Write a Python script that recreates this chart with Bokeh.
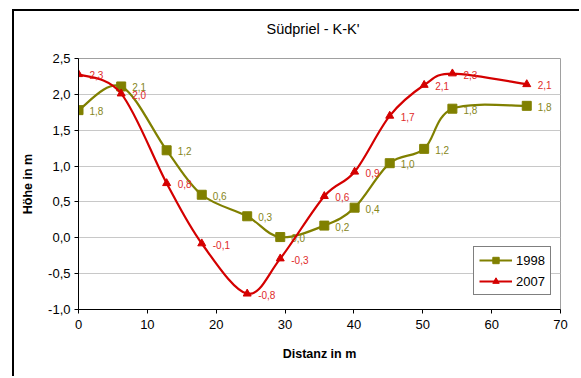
from bokeh.plotting import figure
from bokeh.models import (Range1d, FixedTicker, CustomJSTickFormatter, ColumnDataSource,
                          Legend, LegendItem, Title)
from bokeh.embed import file_html
from bokeh.resources import INLINE

# ---- data ----
distanz = [0, 6.2, 12.8, 17.9, 24.5, 29.3, 35.7, 40.1, 45.2, 50.2, 54.3, 65.1]
hoehe_1998 = [1.78, 2.11, 1.22, 0.60, 0.30, 0.01, 0.17, 0.42, 1.04, 1.24, 1.80, 1.84]
hoehe_2007 = [2.28, 2.01, 0.76, -0.08, -0.78, -0.29, 0.58, 0.92, 1.70, 2.13, 2.29, 2.14]
y_ticks = [-1.0, -0.5, 0.0, 0.5, 1.0, 1.5, 2.0, 2.5]
x_ticks = [0, 10, 20, 30, 40, 50, 60, 70]
series_names = ["1998", "2007"]

OLIVE = "#808000"
RED = "#d40000"
RED_LBL = "#e02a2a"
FONT = "Liberation Sans"

p = figure(width=567, height=367, output_backend="svg", toolbar_location=None,
           x_range=Range1d(0, 70), y_range=Range1d(-1.0, 2.5),
           min_border_left=64, min_border_right=21, min_border_top=47, min_border_bottom=69,
           title="Südpriel - K-K'")
p.styles = {"margin-left": "12px", "margin-top": "9px",
            "border-left": "2px solid black", "border-top": "2px solid black"}
p.title.align = "left"
p.title.offset = 188
p.title.text_font = FONT
p.title.text_font_size = "14.5px"
p.title.text_font_style = "normal"
p.title.text_color = "black"
p.title.standoff = 0

spacer = Title(text=" ", text_font_size="12px", standoff=6)
p.add_layout(spacer, "above")

p.background_fill_color = "white"
p.border_fill_color = "white"
p.outline_line_color = "#a0a0a0"
p.outline_line_width = 1

p.xgrid.grid_line_color = None
p.ygrid.grid_line_color = "#c8c8c8"
p.ygrid.grid_line_width = 1

p.xaxis.ticker = FixedTicker(ticks=x_ticks)
p.yaxis.ticker = FixedTicker(ticks=y_ticks)
p.yaxis.formatter = CustomJSTickFormatter(code="return tick.toFixed(1).replace('.', ',');")
p.xaxis.formatter = CustomJSTickFormatter(code="return tick.toFixed(0);")

for ax in (p.xaxis[0], p.yaxis[0]):
    ax.axis_line_color = "black"
    ax.axis_line_width = 1
    ax.major_tick_line_color = "black"
    ax.major_tick_in = 0
    ax.major_tick_out = 4
    ax.minor_tick_line_color = None
    ax.major_label_text_font = FONT
    ax.major_label_text_font_size = "13px"
    ax.major_label_text_color = "black"
    ax.axis_label_text_font = FONT
    ax.axis_label_text_font_size = "12.5px"
    ax.axis_label_text_font_style = "bold"
    ax.axis_label_text_color = "black"

p.xaxis.axis_label = "Distanz in m"
p.yaxis.axis_label = "Höhe in m"
p.xaxis.major_label_standoff = 6
p.yaxis.major_label_standoff = 4
p.xaxis.axis_label_standoff = 15
p.yaxis.axis_label_standoff = 10


def smooth_segments(xs, ys):
    n = len(xs)
    seg = dict(x0=[], y0=[], x1=[], y1=[], cx0=[], cy0=[], cx1=[], cy1=[])
    for i in range(n - 1):
        a = max(i - 1, 0)
        d = min(i + 2, n - 1)
        seg["x0"].append(xs[i]); seg["y0"].append(ys[i])
        seg["x1"].append(xs[i + 1]); seg["y1"].append(ys[i + 1])
        seg["cx0"].append(xs[i] + (xs[i + 1] - xs[a]) / 6.0)
        seg["cy0"].append(ys[i] + (ys[i + 1] - ys[a]) / 6.0)
        seg["cx1"].append(xs[i + 1] - (xs[d] - xs[i]) / 6.0)
        seg["cy1"].append(ys[i + 1] - (ys[d] - ys[i]) / 6.0)
    return ColumnDataSource(seg)


def fmt(v):
    return ("%.1f" % v).replace(".", ",")


items = []
for name, ys, col, lblcol, marker, msize in [
    (series_names[0], hoehe_1998, OLIVE, "#86861a", "square", 9),
    (series_names[1], hoehe_2007, RED, RED_LBL, "triangle", 8),
]:
    seg = smooth_segments(distanz, ys)
    r_line = p.bezier(x0="x0", y0="y0", x1="x1", y1="y1", cx0="cx0", cy0="cy0",
                      cx1="cx1", cy1="cy1", source=seg, line_color=col, line_width=2.2)
    src = ColumnDataSource(dict(x=distanz, y=ys, lbl=[fmt(v) for v in ys]))
    r_mark = p.scatter("x", "y", source=src, marker=marker, size=msize,
                       fill_color=col, line_color=col)
    p.text("x", "y", text="lbl", source=src, x_offset=11, y_offset=1,
           text_font_size="10px", text_color=lblcol, text_baseline="middle",
           text_align="left", text_font={"value": FONT})
    items.append(LegendItem(label=name, renderers=[r_line, r_mark]))

legend = Legend(items=items, location=(395, 14))
legend.border_line_color = "black"
legend.border_line_width = 1
legend.background_fill_color = "white"
legend.background_fill_alpha = 1
legend.label_text_font = FONT
legend.label_text_font_size = "13px"
legend.label_text_color = "black"
legend.padding = 5
legend.spacing = 5
legend.label_height = 16
legend.glyph_height = 16
legend.glyph_width = 33
legend.label_standoff = 4
legend.margin = 0
p.add_layout(legend, "center")

open("out.html", "w").write(file_html(p, INLINE))
